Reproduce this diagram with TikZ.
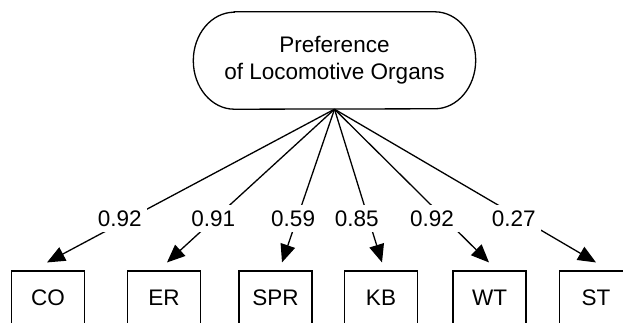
\documentclass[tikz,border=0pt]{standalone}
\usepackage{fontspec}
\setmainfont{Liberation Sans}
\usetikzlibrary{arrows.meta}
\begin{document}
\begin{tikzpicture}[x=1pt,y=1pt,
  every node/.style={font=\fontsize{22.5}{27}\selectfont},
  obs/.style={draw, line width=1.1pt, minimum width=73pt, minimum height=53pt, inner sep=0pt},
  arr/.style={line width=1.3pt, -{Triangle[length=18pt,width=15pt]}},
  lbl/.style={fill=white, inner sep=5.5pt, pos=0.712},
  latentline/.style={line width=1.3pt}]
\useasboundingbox (0,0) rectangle (623,322);
\clip (0,0) rectangle (623,322);
% latent
\node[minimum width=282pt, minimum height=97pt, inner sep=0pt, align=center] (pref) at (334.5,261.5) {Preference\\of Locomotive Organs};
\draw[latentline] ([xshift=41pt]pref.north west) -- ([xshift=-41pt]pref.north east)
  arc[start angle=90, end angle=-90, x radius=41pt, y radius=48.5pt]
  -- ([xshift=41pt]pref.south west)
  arc[start angle=270, end angle=90, x radius=41pt, y radius=48.5pt] -- cycle;
\coordinate (src) at (pref.south);
% observed
\node[obs] (CO) at (48,24.5) {CO};
\node[obs] (ER) at (164,24.5) {ER};
\node[obs] (SPR) at (275.5,24.5) {SPR};
\node[obs] (KB) at (381,24.5) {KB};
\node[obs] (WT) at (489.5,24.5) {WT};
\node[obs] (ST) at (596,24.5) {ST};
% arrow tips
\coordinate (tCO) at ([xshift=-1pt,yshift=8pt]CO.north);
\coordinate (tER) at ([xshift=3pt,yshift=8pt]ER.north);
\coordinate (tSPR) at ([xshift=6.5pt,yshift=8pt]SPR.north);
\coordinate (tKB) at ([xshift=1pt,yshift=8pt]KB.north);
\coordinate (tWT) at ([xshift=-0.5pt,yshift=8pt]WT.north);
\coordinate (tST) at ([xshift=0pt,yshift=8pt]ST.north);
% connectors
\draw[arr] (src) -- node[lbl, xshift=-10pt] {0.92} (tCO);
\draw[arr] (src) -- node[lbl, xshift=-2pt] {0.91} (tER);
\draw[arr] (src) -- node[lbl, xshift=-4pt] {0.59} (tSPR);
\draw[arr] (src) -- node[lbl, xshift=-11.5pt] {0.85} (tKB);
\draw[arr] (src) -- node[lbl, xshift=-12.5pt] {0.92} (tWT);
\draw[arr] (src) -- node[lbl, xshift=-7pt] {0.27} (tST);
\end{tikzpicture}
\end{document}
